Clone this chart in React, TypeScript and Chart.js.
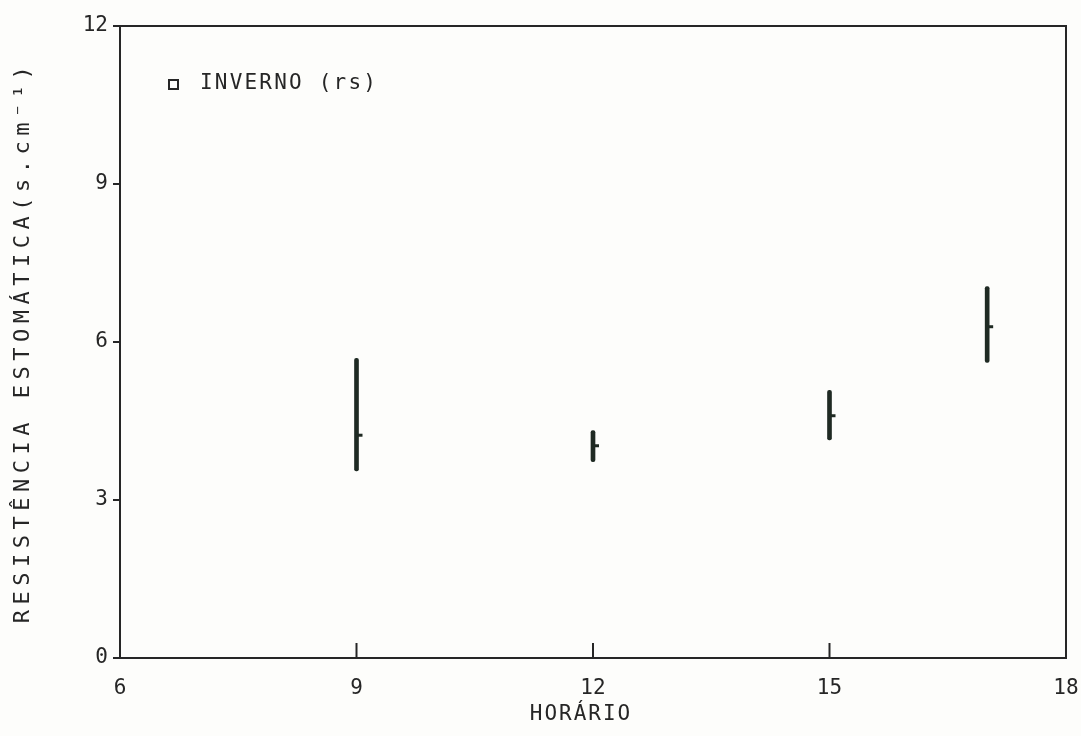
import React, { useEffect, useRef } from "react";
import { Chart, registerables } from "chart.js";

Chart.register(...registerables);

// Data
const HOURS = [9, 12, 15, 17];
const LOW = [3.55, 3.73, 4.14, 5.61];
const HIGH = [5.69, 4.32, 5.08, 7.05];
const MEAN = [4.23, 4.03, 4.6, 6.29];

const X_TITLE = "HORÁRIO";
const Y_TITLE = "RESISTÊNCIA ESTOMÁTICA(s.cm⁻¹)";
const LEGEND_LABEL = "INVERNO (rs)";

const INK = "#262626";
const BAR = "#1f2a23";
const FONT = "'DejaVu Sans Mono', monospace";

const framePlugin = {
  id: "frame",
  beforeDraw(chart: any) {
    const { ctx, width, height } = chart;
    ctx.save();
    ctx.fillStyle = "#fdfdfb";
    ctx.fillRect(0, 0, width, height);
    ctx.restore();
  },
  afterDraw(chart: any) {
    const { ctx, chartArea } = chart;
    const { left, right, top, bottom } = chartArea;
    const xs = chart.scales.x;
    ctx.save();
    ctx.strokeStyle = INK;
    ctx.lineWidth = 2;
    ctx.strokeRect(left, top, right - left, bottom - top);
    // inward ticks on x axis
    xs.ticks.forEach((t: any) => {
      if (t.value <= xs.min || t.value >= xs.max) return;
      const px = xs.getPixelForValue(t.value);
      ctx.beginPath();
      ctx.moveTo(px, bottom);
      ctx.lineTo(px, bottom - 15);
      ctx.stroke();
    });

    // titles
    ctx.fillStyle = INK;
    ctx.textBaseline = "middle";
    ctx.textAlign = "center";
    ctx.font = `21px ${FONT}`;
    (ctx as any).letterSpacing = "2px";
    ctx.fillText(X_TITLE, (left + right) / 2 - 12, 715);

    ctx.save();
    ctx.translate(23, (top + bottom) / 2);
    ctx.rotate(-Math.PI / 2);
    ctx.font = `22px ${FONT}`;
    (ctx as any).letterSpacing = "5.5px";
    ctx.fillText(Y_TITLE, 0, 0);
    ctx.restore();

    // legend
    ctx.lineWidth = 2;
    ctx.strokeRect(left + 49, top + 54, 9, 9);
    ctx.textAlign = "left";
    ctx.font = `21px ${FONT}`;
    (ctx as any).letterSpacing = "2.2px";
    ctx.fillText(LEGEND_LABEL, left + 80, top + 58);
    (ctx as any).letterSpacing = "0px";
    ctx.restore();
  },
};

export default function App() {
  const ref = useRef<HTMLCanvasElement | null>(null);

  useEffect(() => {
    if (!ref.current) return;
    const chart = new Chart(ref.current, {
      type: "bar",
      data: {
        datasets: [
          {
            type: "bar",
            label: LEGEND_LABEL,
            data: HOURS.map((h, i) => ({ x: h, y: [LOW[i], HIGH[i]] })) as any,
            backgroundColor: BAR,
            borderWidth: 0,
            barThickness: 4,
            borderRadius: 2,
            borderSkipped: false,
          } as any,
          {
            type: "scatter",
            label: "mean",
            data: HOURS.map((h, i) => ({ x: h, y: MEAN[i] })),
            pointStyle: "dash",
            pointRadius: 6,
            borderWidth: 3,
            borderColor: BAR,
            backgroundColor: BAR,
          } as any,
        ],
      },
      options: {
        animation: false,
        responsive: false,
        layout: { padding: { top: 26, right: 15, left: 0, bottom: 0 } },
        plugins: {
          legend: { display: false },
          tooltip: { enabled: false },
        },
        scales: {
          x: {
            type: "linear",
            min: 6,
            max: 18,
            offset: false,
            border: { display: false },
            grid: { display: true, drawOnChartArea: false, drawTicks: false, offset: false },
            ticks: {
              stepSize: 3,
              padding: 18,
              color: INK,
              font: { family: FONT, size: 21 },
              maxRotation: 0,
            },
            afterFit: (s: any) => {
              s.height = 78;
              s.paddingLeft = 0;
              s.paddingRight = 0;
            },
          },
          y: {
            type: "linear",
            min: 0,
            max: 12,
            border: { display: false },
            grid: {
              drawOnChartArea: false,
              drawTicks: true,
              tickLength: 7,
              color: INK,
              lineWidth: 2,
            },
            ticks: {
              stepSize: 3,
              padding: 5,
              color: INK,
              font: { family: FONT, size: 21 },
            },
            afterFit: (s: any) => {
              s.width = 120;
              s.paddingTop = 0;
              s.paddingBottom = 0;
            },
          },
        },
      } as any,
      plugins: [framePlugin],
    });
    return () => chart.destroy();
  }, []);

  return (
    <div style={{ position: "fixed", left: 0, top: 0, width: 1081, height: 736 }}>
      <canvas ref={ref} width={1081} height={736} />
    </div>
  );
}
